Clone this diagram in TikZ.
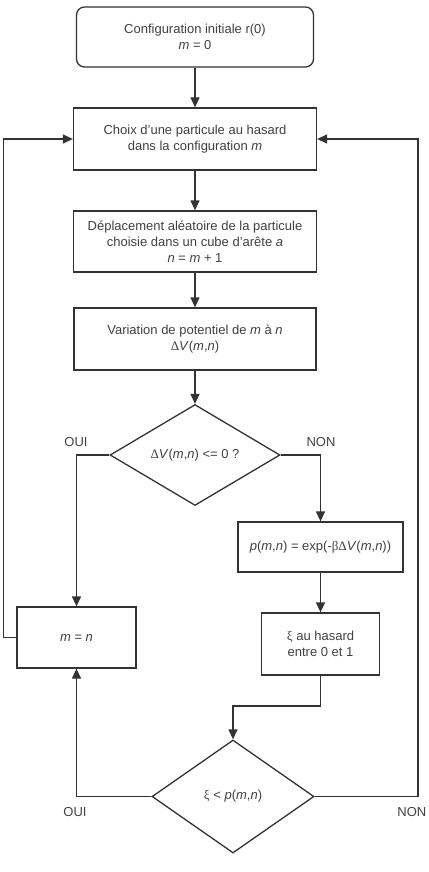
\documentclass[tikz,border=0pt]{standalone}
\usepackage{fontspec}
\setmainfont{Liberation Sans}
\newfontfamily\grk{Liberation Serif}
\usetikzlibrary{shapes.geometric,arrows.meta}

\newcommand{\vi}[1]{\textit{#1}}
\newcommand{\dV}{{\grk Δ}\vi{V}(\vi{m},\vi{n})}

\begin{document}
\begin{tikzpicture}[x=1pt,y=-1pt,line join=miter,line width=1.3pt,
  >={Triangle[length=10pt,width=9pt]},
  color=black!80,
  bloc/.style={draw, rectangle, align=center, text=black!75, inner sep=2pt,
    font=\fontsize{13}{16}\selectfont},
  debut/.style={bloc, rounded corners=8pt},
  test/.style={draw, diamond, inner sep=0pt, align=center, text=black!75,
    font=\fontsize{13}{16}\selectfont},
  lab/.style={text=black!75, font=\fontsize{13}{16}\selectfont}]

  \useasboundingbox (0,0) rectangle (428,872);

  % colonne principale
  \node[debut, minimum width=237pt, minimum height=60pt] (init) at (195,37)
    {Configuration initiale r(0)\\\vi{m} = 0};
  \node[bloc, minimum width=243pt, minimum height=62pt] (choix) at (195,139)
    {Choix d'une particule au hasard\\dans la configuration \vi{m}};
  \node[bloc, minimum width=243pt, minimum height=61pt] (depl) at (195,241.5)
    {Déplacement aléatoire de la particule\\choisie dans un cube d'arête \vi{a}\\\vi{n} = \vi{m} + 1};
  \node[bloc, minimum width=242pt, minimum height=62pt] (var) at (195,339)
    {Variation de potentiel de \vi{m} à \vi{n}\\\dV};
  \node[test, minimum width=170pt, minimum height=90pt] (test1) at (195,455)
    {\dV{} <= 0 ?};

  % branches
  \node[bloc, minimum width=165pt, minimum height=50pt] (proba) at (320.5,547)
    {\vi{p}(\vi{m},\vi{n}) = exp(-{\grk βΔ}\vi{V}(\vi{m},\vi{n}))};
  \node[bloc, minimum width=118pt, minimum height=62pt] (tirage) at (320.5,644)
    {{\grk ξ} au hasard\\entre 0 et 1};
  \node[bloc, minimum width=119pt, minimum height=61pt] (accept) at (76.5,637.5)
    {\vi{m} = \vi{n}};
  \node[test, minimum width=162pt, minimum height=113pt] (test2) at (233,796.5)
    {{\grk ξ} < \vi{p}(\vi{m},\vi{n})};

  \node[lab] (oui1) at (76,442) {OUI};
  \node[lab] (non1) at (321,442) {NON};
  \node[lab] (oui2) at (75,812) {OUI};
  \node[lab, anchor=east, inner sep=1pt] (non2) at (428,812) {NON};

  \coordinate (coude) at (233,706);
  \coordinate (bordG) at (3.5,0);
  \coordinate (bordD) at (418,0);

  \draw[->] (init) -- (choix);
  \draw[->] (choix) -- (depl);
  \draw[->] (depl) -- (var);
  \draw[->] (var) -- (test1);
  \draw[->] (test1.west) -| (accept.north);
  \draw[->] (test1.east) -| (proba.north);
  \draw[->] (proba) -- (tirage);
  \draw[->] (tirage.south) |- (coude) -- (test2.north);
  \draw[->] (test2.west) -| (accept.south);
  \draw[->] (accept.west) -- (accept.west -| bordG) |- (choix.west);
  \draw[->] (test2.east) -- (test2.east -| bordD) |- (choix.east);
\end{tikzpicture}
\end{document}
